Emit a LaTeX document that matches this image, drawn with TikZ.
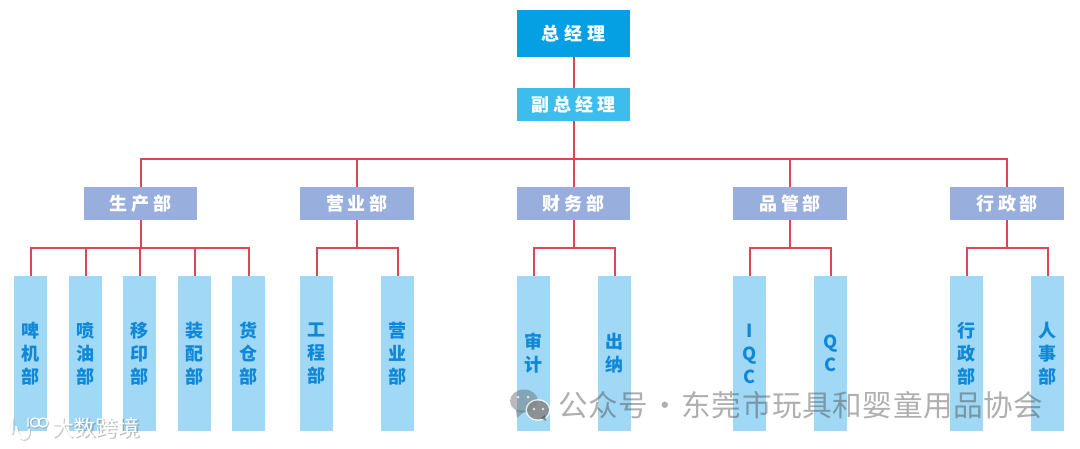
\documentclass[tikz,border=0pt]{standalone}
\usepackage{fontspec}
\setmainfont{Noto Sans CJK SC}
\newfontfamily\wmfont[LetterSpace=2]{Noto Sans CJK SC}
\definecolor{topc}{HTML}{05A0E4}
\definecolor{depc}{HTML}{3DBDEE}
\definecolor{deptc}{HTML}{98AEDC}
\definecolor{leafc}{HTML}{A0D8F5}
\definecolor{leaft}{HTML}{1088D8}
\definecolor{wirec}{HTML}{DF4558}
\tikzset{
  box/.style={draw=none,inner sep=0pt,align=center},
  topbox/.style={box,fill=topc,text=white,minimum width=113pt,minimum height=47pt,font=\fontsize{18}{20}\selectfont\bfseries},
  depbox/.style={box,fill=depc,text=white,minimum width=113pt,minimum height=33pt,font=\fontsize{18}{20}\selectfont\bfseries},
  deptbox/.style={box,fill=deptc,text=white,minimum width=113.5pt,minimum height=33pt,font=\fontsize{18}{20}\selectfont\bfseries},
  leaf/.style={box,fill=leafc,text=leaft,minimum width=33pt,minimum height=155pt,font=\fontsize{18}{23}\selectfont\bfseries},
  wire/.style={draw=wirec,line width=2pt},
  wm/.style={inner sep=0pt,anchor=west,text=black!75,text opacity=0.42,font=\fontsize{29.6}{32}\wmfont},
  logo/.style={inner sep=0pt,font=\fontsize{22}{24}\selectfont},
  logoline/.style={line cap=round}
}
\begin{document}
\begin{tikzpicture}[x=1pt,y=-1pt]
\useasboundingbox (0,0) rectangle (1080,448);
\node[topbox] (gm) at (573.5,33.5) {总\hspace{5pt}经\hspace{5pt}理};
\node[depbox] (dgm) at (573.5,104.5) {副\hspace{4pt}总\hspace{4pt}经\hspace{4pt}理};
\node[deptbox] (d1) at (140.5,203.5) {生\hspace{4pt}产\hspace{4pt}部};
\node[deptbox] (d2) at (357,203.5) {营\hspace{4pt}业\hspace{4pt}部};
\node[deptbox] (d3) at (573.5,203.5) {财\hspace{4pt}务\hspace{4pt}部};
\node[deptbox] (d4) at (790,203.5) {品\hspace{4pt}管\hspace{4pt}部};
\node[deptbox] (d5) at (1007,203.5) {行\hspace{4pt}政\hspace{4pt}部};
\node[leaf] (a1) at (30.5,353.5) {啤\\机\\部};
\node[leaf] (a2) at (85.5,353.5) {喷\\油\\部};
\node[leaf] (a3) at (139.5,353.5) {移\\印\\部};
\node[leaf] (a4) at (194.5,353.5) {装\\配\\部};
\node[leaf] (a5) at (248.5,353.5) {货\\仓\\部};
\node[leaf] (b1) at (316.5,353.5) {工\\程\\部};
\node[leaf] (b2) at (397.5,353.5) {营\\业\\部};
\node[leaf] (c1) at (533.5,353.5) {审\\计};
\node[leaf] (c2) at (614.5,353.5) {出\\纳};
\node[leaf] (e1) at (749.5,353.5) {I\\Q\\C};
\node[leaf] (e2) at (830.5,353.5) {Q\\C};
\node[leaf] (f1) at (966.5,353.5) {行\\政\\部};
\node[leaf] (f2) at (1047.5,353.5) {人\\事\\部};
\coordinate (busm) at (574,159);
\coordinate (bus1) at (141,248);
\coordinate (bus2) at (357,248);
\coordinate (bus3) at (574,248);
\coordinate (bus4) at (790,248);
\coordinate (bus5) at (1007,248);
\draw[wire] (gm.south -| busm) -- (dgm.north -| busm);
\draw[wire] (dgm.south -| busm) -- (d3.north -| busm);
\foreach \d in {d1,d2,d4,d5} \draw[wire] (busm) -| (\d.north);
\draw[wire] (d1.south -| bus1) -- (bus1);
\draw[wire] (d2) -- (bus2);
\draw[wire] (d3.south -| bus3) -- (bus3);
\draw[wire] (d4) -- (bus4);
\draw[wire] (d5) -- (bus5);
\foreach \l in {a1,a2,a3,a4,a5} \draw[wire] (bus1) -| (\l.north);
\foreach \l in {b1,b2} \draw[wire] (bus2) -| (\l.north);
\foreach \l in {c1,c2} \draw[wire] (bus3) -| (\l.north);
\foreach \l in {e1,e2} \draw[wire] (bus4) -| (\l.north);
\foreach \l in {f1,f2} \draw[wire] (bus5) -| (\l.north);
% WeChat watermark
\fill[black!60,opacity=0.45] (524,401) ellipse (14pt and 11.5pt);
\fill[black!60,opacity=0.45] (516,410) -- (517,418) -- (525,411) -- cycle;
\fill[white,opacity=0.75] (538,410) ellipse (12.5pt and 11pt);
\fill[black!75,opacity=0.55] (538,410) ellipse (11pt and 9.5pt);
\fill[black!75,opacity=0.55] (541,418) -- (546,421) -- (545,415) -- cycle;
\fill[white,opacity=0.75] (518,397) circle (1.5pt) (528,397) circle (1.5pt) (534,409) circle (1.3pt) (543,409) circle (1.3pt);
\node[wm] (mark) at (558,405) {公众号\hspace{2pt}·\hspace{2pt}东莞市玩具和婴童用品协会};
% logo watermark
\begin{scope}[shift={(1,1)},opacity=0.4]
\draw[black!50,line width=2.6pt,logoline] (12,419) -- (12,433) (16,427) .. controls (18,442) and (29,442) .. (29,430);
\draw[black!50,line width=1.6pt] (28,418) -- (28,427) (35,422.5) circle (4.5pt) (43,422.5) circle (4.5pt);
\node[logo,text=black!60] (brandshadow) at (96,428) {大数跨境};
\end{scope}
\draw[white,line width=2.4pt,logoline] (12,419) -- (12,433) (16,427) .. controls (18,442) and (29,442) .. (29,430);
\draw[white,line width=1.3pt] (28,418) -- (28,427) (35,422.5) circle (4.5pt) (43,422.5) circle (4.5pt);
\node[logo,text=white] (brand) at (96,428) {大数跨境};
\end{tikzpicture}
\end{document}
